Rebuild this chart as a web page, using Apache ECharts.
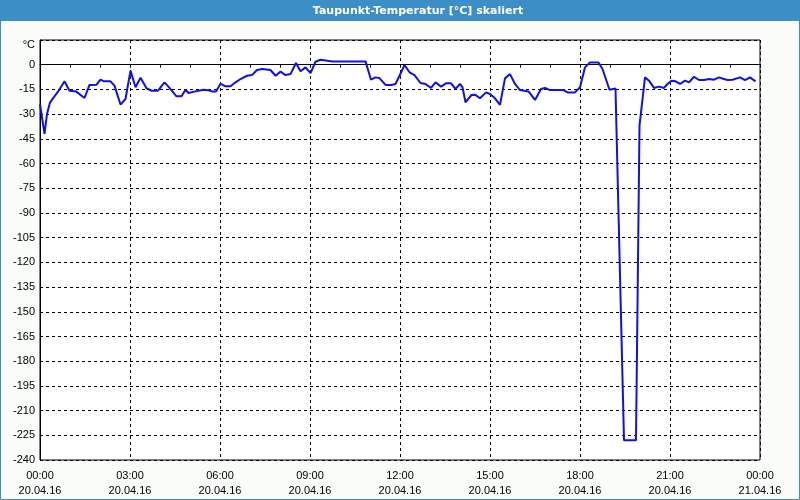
<!DOCTYPE html>
<html>
<head>
<meta charset="utf-8">
<script src="https://cdn.jsdelivr.net/npm/echarts@6/dist/echarts.min.js"></script>
<style>
html,body{margin:0;padding:0;background:#fafcfa;}
#main{width:800px;height:500px;}
</style>
</head>
<body>
<div id="main"></div>
<script>
// minutes since 20.04.16 00:00
var minutes = [0,9,14,20,26,36,49,59,72,89,99,113,121,128,141,149,161,171,181,191,201,213,223,236,249,259,273,283,291,297,311,327,337,344,352,361,371,381,391,401,414,424,434,444,461,471,481,491,501,512,521,531,541,551,561,575,585,651,662,671,679,691,702,711,719,729,739,749,761,771,782,791,802,812,822,831,835,840,845,851,857,863,870,880,892,900,910,920,930,940,950,960,977,990,1002,1010,1020,1047,1055,1070,1080,1090,1100,1117,1125,1139,1143,1151,1168,1192,1199,1210,1218,1228,1238,1248,1255,1263,1271,1280,1290,1298,1308,1318,1328,1338,1348,1358,1368,1375,1385,1389,1400,1410,1420,1431];
var dewpoint = [-24,-42,-30,-23,-20.4,-16.4,-10.1,-15.8,-16.2,-20.2,-12.3,-12.1,-9.1,-10.1,-10.1,-12.7,-24.2,-20.8,-3.6,-13.7,-7.9,-14.3,-15.8,-15.8,-10.7,-14.1,-19.2,-19.2,-15.2,-17.2,-16.2,-15.2,-15.5,-16.2,-16.2,-11.5,-13.1,-13.1,-10.7,-8.7,-6.7,-6.3,-3.2,-2.6,-3.2,-6.7,-4.2,-6.3,-5.7,1.0,-4.0,-1.6,-5.1,1.8,3.0,2.4,2.0,2.0,-9.1,-7.7,-8.1,-12.3,-12.3,-11.7,-6.7,-0.2,-4.6,-6.3,-11.1,-11.7,-14.1,-10.7,-13.3,-11.3,-11.3,-14.7,-15.2,-11.7,-13.7,-22.8,-20.6,-18.4,-18.2,-20.4,-16.8,-17.8,-20.4,-24.4,-8.3,-5.7,-11.7,-15.4,-16.2,-21.4,-14.7,-14.1,-15.4,-15.4,-16.8,-16.8,-13.7,-1.6,1.4,1.4,-2.6,-15.2,-14.5,-14.5,-228,-228,-37,-7.7,-9.7,-14.1,-13.3,-14.1,-11.7,-9.7,-10.1,-11.7,-9.7,-10.7,-7.3,-9.3,-9.3,-8.7,-9.1,-7.7,-8.7,-9.3,-9.1,-10.1,-7.7,-9.3,-7.7,-10.1];
var tickTimes = ['00:00','03:00','06:00','09:00','12:00','15:00','18:00','21:00','00:00'];
var tickDates = ['20.04.16','20.04.16','20.04.16','20.04.16','20.04.16','20.04.16','20.04.16','20.04.16','21.04.16'];
var titleText = 'Taupunkt-Temperatur [°C] skaliert';
var unitLabel = '°C';

var pts = minutes.map(function(m, i){ return [m, dewpoint[i]]; });
var chart = echarts.init(document.getElementById('main'), null, {renderer:'canvas'});
var font = 'Liberation Sans';
chart.setOption({
  animation: false,
  backgroundColor: '#fafcfa',
  graphic: [
    {type:'rect', shape:{x:0.5,y:0.5,width:799,height:499}, style:{fill:null, stroke:'#3c8fc6', lineWidth:1}, z:-1},
    {type:'rect', shape:{x:0,y:0,width:800,height:21}, style:{fill:'#3c8fc6'}},
    {type:'text', x:418, y:11, style:{text:titleText, fill:'#fff', font:'bold 11px "DejaVu Sans"', textAlign:'center', textVerticalAlign:'middle'}}
  ],
  grid: {left:40, right:40, top:40, bottom:40, show:true, backgroundColor:'#fff', borderColor:'#000', borderWidth:1},
  xAxis: {
    type:'value', min:0, max:1440, interval:180,
    axisLine:{show:true, lineStyle:{color:'#000', width:1}},
    axisTick:{show:true, length:3, lineStyle:{color:'#000'}},
    minorTick:{show:true, splitNumber:3, length:3, lineStyle:{color:'#000'}},
    splitLine:{show:true, lineStyle:{color:'#000', type:[3,3], width:1}},
    axisLabel:{
      color:'#000', fontFamily:font, fontSize:11, lineHeight:15, margin:8,
      showMinLabel:true, showMaxLabel:true,
      formatter:function(v){ var i=Math.round(v/180); return tickTimes[i] + '\n' + tickDates[i]; }
    }
  },
  yAxis: {
    type:'value', min:-240, max:15, interval:15,
    axisLine:{show:true, lineStyle:{color:'#000', width:1}},
    axisTick:{show:false},
    splitLine:{show:true, lineStyle:{color:'#000', type:[3,3], width:1}},
    axisLabel:{
      color:'#000', fontFamily:font, fontSize:11, margin:5,
      showMinLabel:true, showMaxLabel:true,
      formatter:function(v){ return v === 15 ? '{u|' + unitLabel + '}' : String(v); },
      rich:{u:{fontFamily:font, fontSize:11, color:'#000', padding:[10,0,0,0]}}
    }
  },
  series: [{
    type:'line', data:pts, showSymbol:false, symbol:'none',
    lineStyle:{color:'#1010e8', width:2}, itemStyle:{color:'#1010e8'}
  }]
});
</script>
</body>
</html>
